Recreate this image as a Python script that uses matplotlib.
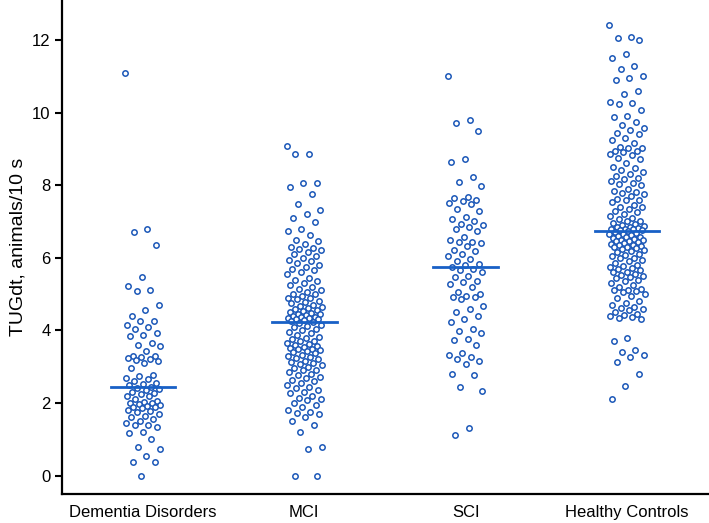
import numpy as np
import matplotlib
matplotlib.use("Agg")
import matplotlib.pyplot as plt

plt.rcParams['font.family'] = ['Liberation Sans', 'DejaVu Sans']

# Groups and values
groups = ["Dementia Disorders", "MCI", "SCI", "Healthy Controls"]

dementia = [11.1, 6.8, 6.72, 6.34, 5.48, 5.21, 5.12, 5.08, 4.71, 4.55, 4.39, 4.27,
            4.25, 4.16, 4.08, 4.05, 3.92, 3.86, 3.84, 3.65, 3.6, 3.57, 3.42, 3.3,
            3.28, 3.26, 3.25, 3.2, 3.17, 3.15, 3.1, 2.95, 2.77, 2.75, 2.7, 2.65,
            2.6, 2.55, 2.52, 2.5, 2.45, 2.4, 2.38, 2.35, 2.3, 2.28, 2.25, 2.2,
            2.18, 2.1, 2.05, 2.02, 2.0, 2.0, 1.98, 1.95, 1.92, 1.9, 1.88, 1.85,
            1.8, 1.78, 1.75, 1.7, 1.65, 1.6, 1.55, 1.5, 1.45, 1.4, 1.38, 1.35,
            1.2, 1.18, 1.0, 0.78, 0.73, 0.54, 0.38, 0.38, 0.0]

mci = [9.08, 8.87, 8.87, 8.05, 8.05, 7.95, 7.75, 7.48, 7.32, 7.2, 7.09, 6.98,
       6.8, 6.73, 6.64, 6.5, 6.45, 6.38, 6.3, 6.28, 6.25, 6.2, 6.15, 6.1, 6.05,
       6.0, 5.95, 5.9, 5.85, 5.8, 5.75, 5.7, 5.65, 5.6, 5.55, 5.45, 5.4, 5.35,
       5.3, 5.25, 5.2, 5.15, 5.1, 5.05, 5.0, 5.0, 4.95, 4.9, 4.9, 4.85, 4.8,
       4.78, 4.75, 4.7, 4.68, 4.65, 4.62, 4.6, 4.55, 4.52, 4.5, 4.48, 4.46,
       4.45, 4.42, 4.4, 4.38, 4.36, 4.35, 4.34, 4.32, 4.3, 4.28, 4.26,
       4.22, 4.2, 4.15, 4.12, 4.1, 4.05, 4.0, 3.95, 3.92, 3.86, 3.82, 3.8,
       3.75, 3.72, 3.7, 3.65, 3.62, 3.6, 3.58, 3.55, 3.52, 3.5, 3.48, 3.45,
       3.42, 3.4, 3.37, 3.33, 3.3, 3.27, 3.25, 3.2, 3.15, 3.12, 3.1, 3.08,
       3.05, 3.0, 2.95, 2.92, 2.9, 2.85, 2.8, 2.78, 2.72, 2.68, 2.62, 2.6,
       2.55, 2.5, 2.45, 2.4, 2.35, 2.3, 2.27, 2.2, 2.15, 2.1, 2.07, 2.0, 1.95,
       1.88, 1.8, 1.75, 1.72, 1.69, 1.6, 1.5, 1.39, 1.21, 0.79, 0.73, 0.0, 0.0]

sci = [11.0, 9.8, 9.7, 9.49, 8.72, 8.64, 8.23, 8.1, 7.98, 7.68, 7.65, 7.6,
       7.57, 7.52, 7.48, 7.34, 7.3, 7.11, 7.07, 7.02, 6.93, 6.9, 6.85, 6.8,
       6.75, 6.56, 6.5, 6.44, 6.42, 6.4, 6.33, 6.22, 6.18, 6.1, 6.06, 5.97,
       5.92, 5.84, 5.8, 5.75, 5.7, 5.65, 5.6, 5.5, 5.46, 5.37, 5.33, 5.28,
       5.19, 5.05, 5.0, 4.96, 4.93, 4.92, 4.85, 4.66, 4.6, 4.5, 4.4, 4.32,
       4.23, 4.03, 3.97, 3.94, 3.77, 3.73, 3.59, 3.38, 3.32, 3.26, 3.22, 3.15,
       3.08, 2.81, 2.76, 2.43, 2.33, 1.3, 1.12]

healthy = [12.4, 12.07, 12.04, 11.99, 11.6, 11.51, 11.28, 11.2, 11.0, 10.94,
           10.9, 10.6, 10.52, 10.29, 10.27, 10.23, 10.06, 9.9, 9.89, 9.75, 9.65,
           9.58, 9.52, 9.45, 9.42, 9.3, 9.25, 9.15, 9.05, 9.03, 9.03, 8.95,
           8.93, 8.9, 8.85, 8.83, 8.76, 8.72, 8.6, 8.51, 8.48, 8.42, 8.35, 8.3,
           8.26, 8.21, 8.16, 8.12, 8.07, 8.04, 8.0, 7.9, 7.85, 7.82, 7.77, 7.75,
           7.7, 7.62, 7.6, 7.58, 7.53, 7.45, 7.4, 7.39, 7.35, 7.3, 7.25, 7.2,
           7.15, 7.1, 7.06, 7.01, 7.0, 6.95, 6.92, 6.9, 6.88, 6.86, 6.84, 6.82,
           6.8, 6.79, 6.78, 6.77, 6.76, 6.75,
           6.7, 6.68, 6.66, 6.65, 6.62, 6.6, 6.58, 6.56, 6.55, 6.52, 6.5, 6.48,
           6.46, 6.45, 6.43, 6.4, 6.38, 6.36, 6.35, 6.33, 6.3, 6.29, 6.26, 6.25,
           6.2, 6.18, 6.15, 6.1, 6.08, 6.05, 6.0, 5.98, 5.95, 5.9, 5.85, 5.8,
           5.78, 5.75, 5.72, 5.7, 5.65, 5.62, 5.6, 5.55, 5.52, 5.5, 5.46, 5.44,
           5.4, 5.35, 5.3, 5.25, 5.2, 5.15, 5.12, 5.1, 5.08, 5.05, 5.0, 4.96,
           4.9, 4.8, 4.75, 4.69, 4.65, 4.62, 4.6, 4.55, 4.5, 4.45, 4.42, 4.4,
           4.38, 4.35, 4.3, 3.78, 3.7, 3.45, 3.4, 3.31, 3.26, 3.13, 2.81, 2.47,
           2.12]

series = [dementia, mci, sci, healthy]
yticks = [0, 2, 4, 6, 8, 10, 12]

point_color = "#1c58b8"
line_color = "#1860c6"

fig = plt.figure(figsize=(7.09, 5.23), dpi=100)
ax = fig.add_axes([0.088, 0.056, 0.91, 0.944])

golden = 0.6180339887
for i, vals in enumerate(series):
    vals = np.asarray(vals)
    # spread points sideways (deterministic jitter)
    offs = ((np.arange(len(vals)) * golden) % 1.0 - 0.5) * 0.22
    ax.scatter(i + offs, vals, s=15, facecolors="white", edgecolors=point_color,
               linewidths=1.1, zorder=3)
    med = np.median(vals)
    ax.plot([i - 0.2, i + 0.2], [med, med], color=line_color, lw=2.0, zorder=4)

ax.set_xlim(-0.5, 3.5)
ax.set_ylim(-0.5, 13.1)
ax.set_xticks(range(len(groups)))
ax.set_xticklabels(groups, fontsize=12)
ax.set_yticks(yticks)
ax.tick_params(axis="y", labelsize=12, width=1.5, length=5)
ax.tick_params(axis="x", length=0, pad=8)
ax.set_ylabel("TUGdt, animals/10 s", fontsize=14)

for s in ["top", "right"]:
    ax.spines[s].set_visible(False)
for s in ["left", "bottom"]:
    ax.spines[s].set_linewidth(1.6)

fig.savefig("out.png", dpi=100)
